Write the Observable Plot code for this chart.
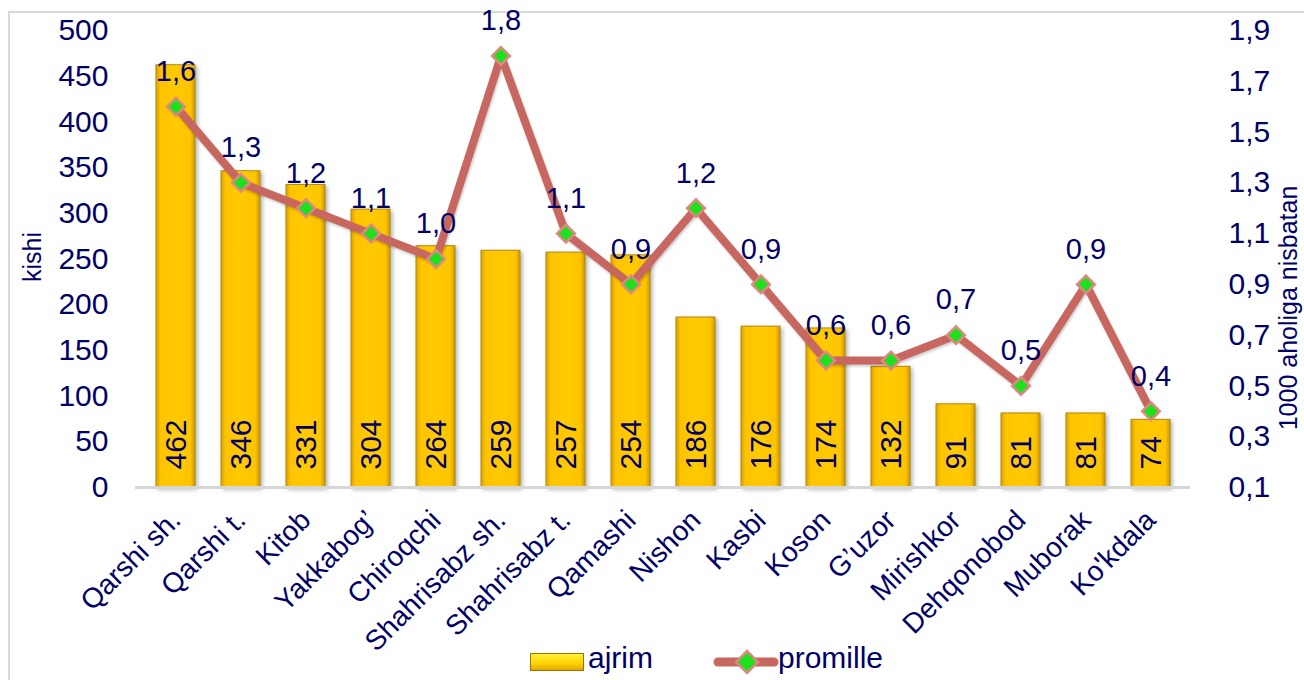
<!DOCTYPE html>
<html><head><meta charset="utf-8">
<script src="https://cdn.jsdelivr.net/npm/d3@7"></script>
<script src="https://cdn.jsdelivr.net/npm/@observablehq/plot@0.6"></script>
<style>
body{margin:0;background:#fff;font-family:"Liberation Sans",Arial,sans-serif;}
#frame{position:absolute;left:8px;top:11px;width:1300px;height:700px;border-left:2px solid #d9d9d9;border-top:2px solid #d9d9d9;}
#chart{position:absolute;left:0;top:0;}
#legend{position:absolute;left:0;top:640px;width:1304px;height:40px;color:#000066;font-size:30px;}
#legend span{position:absolute;top:3px;line-height:1;}
</style></head><body>
<div id="frame"></div>
<div id="chart"></div>
<div id="legend">
  <div style="position:absolute;left:530px;top:13px;width:52px;height:16px;background:linear-gradient(180deg,#fff23a 0%,#ffd200 60%,#e0a800 100%);border:1px solid #9a7400;"></div>
  <span style="left:588px;">ajrim</span>
  <svg style="position:absolute;left:712px;top:5px;" width="68" height="34">
    <line x1="6" y1="17" x2="62" y2="17" stroke="#C8675F" stroke-width="9" stroke-linecap="round"/>
    <path d="M35 6 L46 17 L35 28 L24 17 Z" fill="#1ee01e" stroke="#e08880" stroke-width="2.5"/>
  </svg>
  <span style="left:778px;">promille</span>
</div>
<script>
const categories = ["Qarshi sh.","Qarshi t.","Kitob","Yakkabog’","Chiroqchi","Shahrisabz sh.","Shahrisabz t.","Qamashi","Nishon","Kasbi","Koson","G’uzor","Mirishkor","Dehqonobod","Muborak","Ko'kdala"];
const ajrim = [462,346,331,304,264,259,257,254,186,176,174,132,91,81,81,74];
const promille = [1.6,1.3,1.2,1.1,1.0,1.8,1.1,0.9,1.2,0.9,0.6,0.6,0.7,0.5,0.9,0.4];
const leftTicks = [0,50,100,150,200,250,300,350,400,450,500];
const rightTicks = [0.1,0.3,0.5,0.7,0.9,1.1,1.3,1.5,1.7,1.9];
const leftDomain = [0,500];
const rightDomain = [0.1,1.9];

const toLeft = p => (p - rightDomain[0]) / (rightDomain[1] - rightDomain[0]) * (leftDomain[1] - leftDomain[0]) + leftDomain[0];
const fromLeft = v => (v - leftDomain[0]) / (leftDomain[1] - leftDomain[0]) * (rightDomain[1] - rightDomain[0]) + rightDomain[0];
const fmt = v => v.toFixed(1).replace(".", ",");

const data = categories.map((c, i) => ({c, a: ajrim[i], p: promille[i], py: toLeft(promille[i])}));
const navy = "#000066";

const chart = Plot.plot({
  width: 1304, height: 640,
  marginLeft: 135, marginRight: 114, marginTop: 30, marginBottom: 153,
  style: {fontFamily: "Liberation Sans, Arial, sans-serif", color: navy, background: "transparent", overflow: "visible"},
  x: {domain: categories, paddingInner: 0.4, paddingOuter: 0.2, label: null},
  y: {domain: leftDomain, label: null},
  marks: [
    Plot.barY(data, {x: "c", y: "a", fill: "url(#barGrad)", stroke: "#b08a10", strokeWidth: 1}),
    Plot.ruleY([0], {stroke: "#d6d6d6", strokeWidth: 3}),
    Plot.text(data, {x: "c", y: 0, text: d => String(d.a), rotate: -90, textAnchor: "start", dy: -18, fontSize: 30, fill: navy}),
    Plot.line(data, {x: "c", y: "py", stroke: "#C8675F", strokeWidth: 8, strokeLinejoin: "round"}),
    Plot.dot(data, {x: "c", y: "py", symbol: "diamond2", r: 8, fill: "#1ee01e", stroke: "#e08880", strokeWidth: 2.5}),
    Plot.text(data, {x: "c", y: "py", text: d => fmt(d.p), dy: -35, fontSize: 29, fill: navy}),
    Plot.axisY({ticks: leftTicks, tickFormat: d => String(d), tickSize: 0, tickPadding: 27, fontSize: 30, label: null}),
    Plot.axisY({anchor: "right", ticks: rightTicks.map(toLeft), tickFormat: d => fmt(fromLeft(d)), tickSize: 0, tickPadding: 38, fontSize: 30, label: null}),
    Plot.axisX({tickRotate: -45, tickSize: 0, tickPadding: 28, fontSize: 28, label: null})
  ]
});

const svg = d3.select(chart);
svg.insert("defs", ":first-child").html(`
  <linearGradient id="barGrad" x1="0" x2="1" y1="0" y2="0">
    <stop offset="0%" stop-color="#d9a200"/>
    <stop offset="12%" stop-color="#ffc400"/>
    <stop offset="50%" stop-color="#ffca00"/>
    <stop offset="88%" stop-color="#ffc400"/>
    <stop offset="100%" stop-color="#cf9800"/>
  </linearGradient>`);
svg.selectAll("g[aria-label='bar']").style("filter", "drop-shadow(2px 2px 2px rgba(0,0,0,0.3))");
svg.selectAll("g[aria-label='line']").style("filter", "drop-shadow(1px 2px 1px rgba(0,0,0,0.2))");

svg.append("text").attr("transform", "translate(32,257) rotate(-90)")
  .attr("text-anchor", "middle").attr("dominant-baseline", "central")
  .attr("font-size", 25).attr("fill", navy).text("kishi");
svg.append("text").attr("transform", "translate(1288,308) rotate(-90)")
  .attr("text-anchor", "middle").attr("dominant-baseline", "central")
  .attr("font-size", 25).attr("fill", navy).text("1000 aholiga nisbatan");

document.getElementById("chart").appendChild(chart);
</script>
</body></html>
